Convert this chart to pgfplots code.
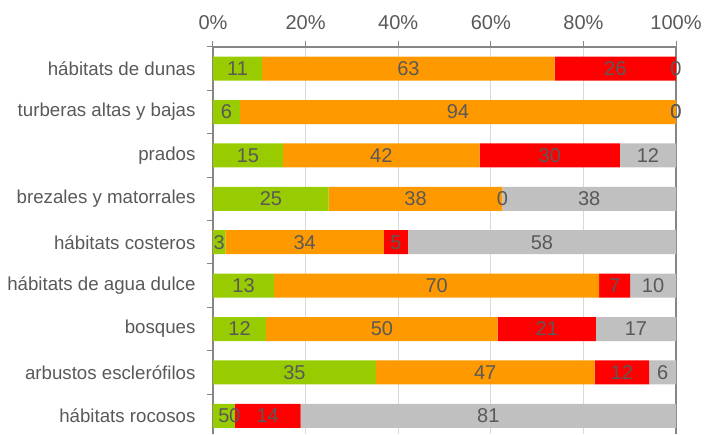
\documentclass[border=0pt]{standalone}
\usepackage{fontspec}
\setmainfont{Liberation Sans}
\usepackage{pgfplots}
\pgfplotsset{compat=1.18}
\usepackage{pgfplotstable}
\definecolor{cg}{HTML}{99CC00}
\definecolor{co}{HTML}{FF9900}
\definecolor{cr}{HTML}{FF0000}
\definecolor{cs}{HTML}{C0C0C0}
\definecolor{txt}{HTML}{595959}
\definecolor{axc}{HTML}{868686}
\definecolor{grd}{HTML}{D9D9D9}
\pgfplotstableread{
y g o r s gl ol rl sl
8 10.6 63.2 26.2 0 11 63 26 0
7 5.8 94.2 0 0 6 94 0 0
6 15.1 42.5 30.3 12.1 15 42 30 12
5 25.0 37.5 0 37.5 25 38 0 38
4 2.7 34.2 5.2 57.9 3 34 5 58
3 13.2 70.2 6.7 9.9 13 70 7 10
2 11.5 50.0 21.2 17.3 12 50 21 17
1 35.2 47.2 11.8 5.8 35 47 12 6
0 4.7 0 14.2 81.1 5 0 14 81
}\data
\begin{document}
\begin{tikzpicture}
\pgfplotsset{common/.style={scale only axis, width=463pt, height=387pt,
  xmin=0, xmax=100, ymin=-0.42, ymax=8.5, at={(0,0)}, anchor=south west}}
\begin{axis}[common, xbar stacked, bar width=24pt,
  axis x line*=top, axis y line*=left,
  axis line style={-, draw=axc, line width=1.2pt},
  xtick={0,20,...,100}, xticklabels={0\%,20\%,40\%,60\%,80\%,100\%},
  xmajorgrids, major grid style={draw=grd, line width=1pt},
  extra x ticks={100}, extra x tick labels={},
  extra x tick style={grid=major, major grid style={draw=axc, line width=1.2pt}},
  ytick={0,...,8},
  yticklabels={hábitats rocosos, arbustos esclerófilos, bosques, hábitats de agua dulce, hábitats costeros, brezales y matorrales, prados, turberas altas y bajas, hábitats de dunas},
  minor ytick={0.5,1.5,...,8.5},
  tick align=outside, major tick length=6pt, minor tick length=6pt,
  major y tick style={draw=none},
  minor y tick style={draw=axc, line width=1pt},
  major x tick style={draw=axc, line width=1pt},
  xticklabel style={font=\fontsize{20}{24}\selectfont, text=txt, yshift=8pt},
  yticklabel style={font=\fontsize{18.7}{22}\selectfont, text=txt, xshift=-8pt},
]
\addplot[fill=cg, draw=none] table[x=g, y=y]{\data};
\addplot[fill=co, draw=none] table[x=o, y=y]{\data};
\addplot[fill=cr, draw=none] table[x=r, y=y]{\data};
\addplot[fill=cs, draw=none] table[x=s, y=y]{\data};
\end{axis}
\begin{axis}[common, hide axis, clip=false,
  nodes near coords, point meta=explicit symbolic,
  every node near coord/.append style={font=\fontsize{20}{24}\selectfont, text=txt, anchor=center, inner sep=0pt}]
\addplot[draw=none, mark=none] table[x expr=\thisrow{g}/2, y=y, meta=gl]{\data};
\addplot[draw=none, mark=none] table[x expr=\thisrow{g}+\thisrow{o}/2, y=y, meta=ol]{\data};
\addplot[draw=none, mark=none] table[x expr=\thisrow{g}+\thisrow{o}+\thisrow{r}/2, y=y, meta=rl]{\data};
\addplot[draw=none, mark=none] table[x expr=\thisrow{g}+\thisrow{o}+\thisrow{r}+\thisrow{s}/2, y=y, meta=sl]{\data};
\end{axis}
\pgfresetboundingbox
\useasboundingbox (-213pt,0) rectangle (491pt,434pt);
\end{tikzpicture}
\end{document}
